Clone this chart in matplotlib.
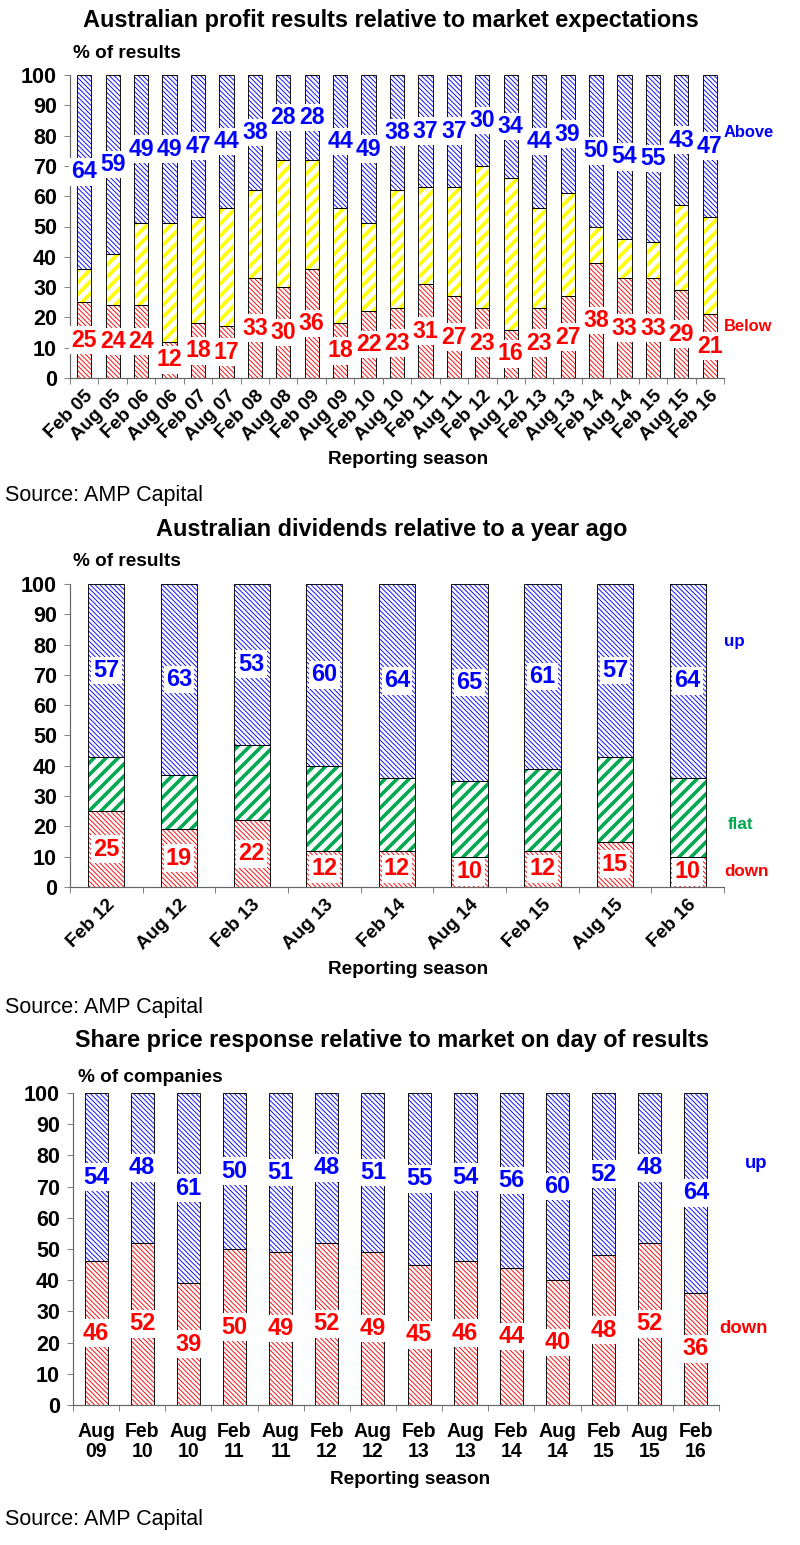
import numpy as np
import matplotlib.pyplot as plt

plt.rcParams['font.family'] = ['Liberation Sans', 'DejaVu Sans']
plt.rcParams['font.weight'] = 'bold'

# --- chart 1: profit results vs expectations
seasons1 = ['Feb 05', 'Aug 05', 'Feb 06', 'Aug 06', 'Feb 07', 'Aug 07', 'Feb 08', 'Aug 08',
            'Feb 09', 'Aug 09', 'Feb 10', 'Aug 10', 'Feb 11', 'Aug 11', 'Feb 12', 'Aug 12',
            'Feb 13', 'Aug 13', 'Feb 14', 'Aug 14', 'Feb 15', 'Aug 15', 'Feb 16']
below1 = [25, 24, 24, 12, 18, 17, 33, 30, 36, 18, 22, 23, 31, 27, 23, 16, 23, 27, 38, 33, 33, 29, 21]
above1 = [64, 59, 49, 49, 47, 44, 38, 28, 28, 44, 49, 38, 37, 37, 30, 34, 44, 39, 50, 54, 55, 43, 47]

# --- chart 2: dividends vs a year ago
seasons2 = ['Feb 12', 'Aug 12', 'Feb 13', 'Aug 13', 'Feb 14', 'Aug 14', 'Feb 15', 'Aug 15', 'Feb 16']
down2 = [25, 19, 22, 12, 12, 10, 12, 15, 10]
up2 = [57, 63, 53, 60, 64, 65, 61, 57, 64]

# --- chart 3: share price response
seasons3 = ['Aug\n09', 'Feb\n10', 'Aug\n10', 'Feb\n11', 'Aug\n11', 'Feb\n12', 'Aug\n12',
            'Feb\n13', 'Aug\n13', 'Feb\n14', 'Aug\n14', 'Feb\n15', 'Aug\n15', 'Feb\n16']
down3 = [46, 52, 39, 50, 49, 52, 49, 45, 46, 44, 40, 48, 52, 36]
up3 = [54, 48, 61, 50, 51, 48, 51, 55, 54, 56, 60, 52, 48, 64]

BLUE, RED, YELLOW, GREEN = '#0000ff', '#ff0000', '#ffff00', '#00a850'
THIN = '\\' * 5
THICK = '//'
W, H = 800, 1545


def fx(x):
    return x / W


def fy(y):
    return 1 - y / H


def hatched(ax, h, bottom, color, hatch, hlw):
    x = np.arange(len(h))
    with plt.rc_context({'hatch.linewidth': hlw}):
        bars = ax.bar(x, h, 0.5, bottom=bottom, color='white', edgecolor=color,
                      hatch=hatch, linewidth=0)
    for b in bars:
        if hasattr(b, 'set_hatch_linewidth'):
            b.set_hatch_linewidth(hlw)
    ax.bar(x, h, 0.5, bottom=bottom, fill=False, edgecolor='black', linewidth=0.9)


def style(ax, labels, rot):
    n = len(labels)
    ax.set_xlim(-0.5, n - 0.5)
    ax.set_ylim(0, 100)
    ax.set_yticks(range(0, 101, 10))
    ax.set_xticks(np.arange(n + 1) - 0.5)
    ax.set_xticklabels([])
    ax.set_xticks(np.arange(n), minor=True)
    if rot:
        ax.set_xticklabels(labels, minor=True, rotation=45, ha='right', va='top',
                           rotation_mode='anchor', fontsize=19, fontweight='bold')
        ax.tick_params(axis='x', which='minor', length=0, pad=9)
    else:
        ax.set_xticklabels(labels, minor=True, fontsize=19.5, fontweight='bold',
                           linespacing=1.05)
        ax.tick_params(axis='x', which='minor', length=0, pad=17)
    ax.tick_params(axis='x', which='major', length=6, color='#666666')
    ax.tick_params(axis='y', length=6, color='#666666', labelsize=21.5, pad=7)
    for t in ax.get_yticklabels():
        t.set_fontweight('bold')
    for s in ['top', 'right']:
        ax.spines[s].set_visible(False)
    for s in ['left', 'bottom']:
        ax.spines[s].set_color('#666666')
        ax.spines[s].set_linewidth(1.2)


def label(ax, x, y, txt, color, size):
    ax.text(x, y, txt, ha='center', va='center', color=color, fontsize=size,
            fontweight='bold',
            bbox=dict(boxstyle='square,pad=0.1', fc='white', ec='none'))


fig = plt.figure(figsize=(W / 72, H / 72), dpi=72)

# ---------------- chart 1
ax1 = fig.add_axes([fx(70), fy(378), 654 / W, 303 / H])
mid1 = [100 - b - a for b, a in zip(below1, above1)]
top1 = [b + m for b, m in zip(below1, mid1)]
hatched(ax1, below1, 0, RED, THIN, 0.9)
hatched(ax1, mid1, below1, YELLOW, THICK, 3.6)
hatched(ax1, above1, top1, BLUE, THIN, 0.9)
style(ax1, seasons1, True)
for i in range(len(seasons1)):
    label(ax1, i, below1[i] / 2, str(below1[i]), RED, 23)
    label(ax1, i, 100 - above1[i] / 2, str(above1[i]), BLUE, 23)
yt = ax1.get_yaxis_transform()
ax1.text(1.0, 81, 'Above', transform=yt, color=BLUE, fontsize=16.5, ha='left', va='center')
ax1.text(1.0, 17, 'Below', transform=yt, color=RED, fontsize=16.5, ha='left', va='center')

fig.text(fx(391), fy(20), 'Australian profit results relative to market expectations',
         ha='center', va='center', fontsize=23.5, fontweight='bold')
fig.text(fx(73), fy(53), '% of results', ha='left', va='center', fontsize=19, fontweight='bold')
fig.text(fx(408), fy(460), 'Reporting season', ha='center', va='center', fontsize=19,
         fontweight='bold')
fig.text(fx(5), fy(496), 'Source: AMP Capital', ha='left', va='center', fontsize=21.5,
         fontweight='normal')

# ---------------- chart 2
ax2 = fig.add_axes([fx(70), fy(887), 654 / W, 303 / H])
flat2 = [100 - d - u for d, u in zip(down2, up2)]
top2 = [d + f for d, f in zip(down2, flat2)]
hatched(ax2, down2, 0, RED, THIN, 0.9)
hatched(ax2, flat2, down2, GREEN, THICK, 3.6)
hatched(ax2, up2, top2, BLUE, THIN, 0.9)
style(ax2, seasons2, True)
for i in range(len(seasons2)):
    label(ax2, i, down2[i] / 2, str(down2[i]), RED, 23.5)
    label(ax2, i, 100 - up2[i] / 2, str(up2[i]), BLUE, 23.5)
yt = ax2.get_yaxis_transform()
ax2.text(1.0, 81, 'up', transform=yt, color=BLUE, fontsize=17, ha='left', va='center')
ax2.text(1.005, 20.5, 'flat', transform=yt, color=GREEN, fontsize=17, ha='left', va='center')
ax2.text(1.0, 5, 'down', transform=yt, color=RED, fontsize=17, ha='left', va='center')

fig.text(fx(392), fy(530), 'Australian dividends relative to a year ago',
         ha='center', va='center', fontsize=23.5, fontweight='bold')
fig.text(fx(73), fy(562), '% of results', ha='left', va='center', fontsize=19, fontweight='bold')
fig.text(fx(408), fy(970), 'Reporting season', ha='center', va='center', fontsize=19,
         fontweight='bold')
fig.text(fx(5), fy(1008), 'Source: AMP Capital', ha='left', va='center', fontsize=21.5,
         fontweight='normal')

# ---------------- chart 3
ax3 = fig.add_axes([fx(73), fy(1405), 646 / W, 312 / H])
hatched(ax3, down3, 0, RED, THIN, 0.9)
hatched(ax3, up3, down3, BLUE, THIN, 0.9)
style(ax3, seasons3, False)
for i in range(len(seasons3)):
    label(ax3, i, down3[i] / 2, str(down3[i]), RED, 23.5)
    label(ax3, i, 100 - up3[i] / 2, str(up3[i]), BLUE, 23.5)
yt = ax3.get_yaxis_transform()
ax3.text(1.04, 77.5, 'up', transform=yt, color=BLUE, fontsize=18.5, ha='left', va='center')
ax3.text(1.0, 24.5, 'down', transform=yt, color=RED, fontsize=18.5, ha='left', va='center')

fig.text(fx(392), fy(1040), 'Share price response relative to market on day of results',
         ha='center', va='center', fontsize=23.5, fontweight='bold')
fig.text(fx(78), fy(1078), '% of companies', ha='left', va='center', fontsize=19,
         fontweight='bold')
fig.text(fx(410), fy(1480), 'Reporting season', ha='center', va='center', fontsize=19,
         fontweight='bold')
fig.text(fx(5), fy(1520), 'Source: AMP Capital', ha='left', va='center', fontsize=21.5,
         fontweight='normal')

fig.savefig('out.png', dpi=72)
